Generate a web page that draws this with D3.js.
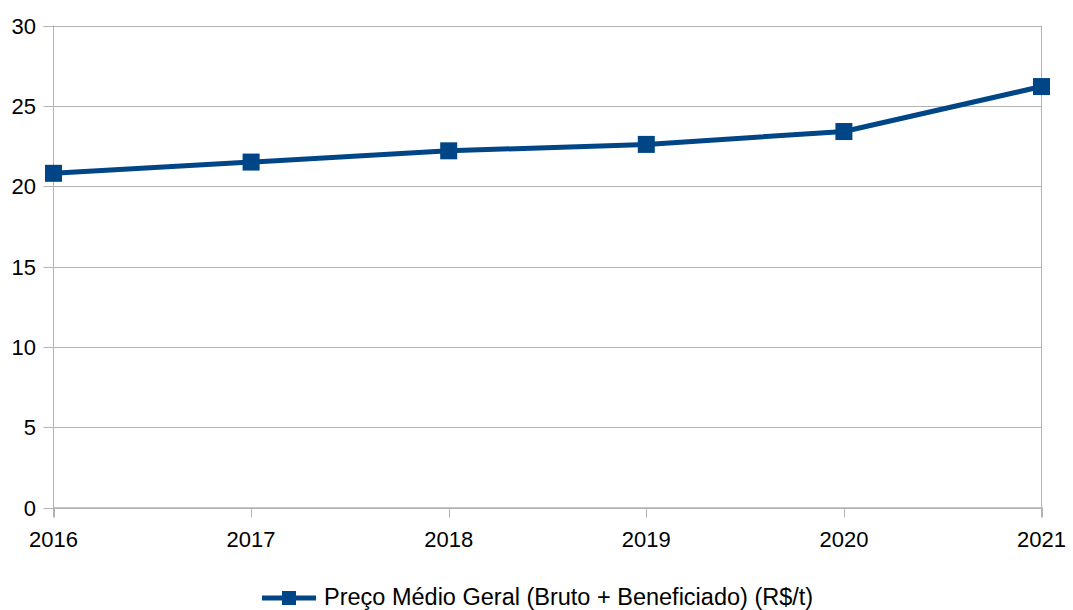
<!DOCTYPE html>
<html><head><meta charset="utf-8">
<script src="https://cdn.jsdelivr.net/npm/d3@7"></script>
<style>body{margin:0;background:#fff}svg{display:block}text{font-family:"Liberation Sans",Arial,sans-serif;fill:#000}</style>
</head><body>
<svg id="c" width="1073" height="610"></svg>
<script>
const years = ["2016","2017","2018","2019","2020","2021"];
const prices = [20.8, 21.5, 22.2, 22.6, 23.4, 26.2];
const yTicks = [0,5,10,15,20,25,30];
const seriesName = "Preço Médio Geral (Bruto + Beneficiado) (R$/t)";

const svg = d3.select("#c");
const L=53.5, R=1041.5, T=25.5, B=507.5;
const x = d3.scalePoint().domain(years).range([L,R]);
const y = d3.scaleLinear().domain([0,30]).range([B,T]);
const color = "#004586", grid="#b3b3b3";

svg.append("g").selectAll("line").data(yTicks).join("line")
  .attr("x1",L-10).attr("x2",R).attr("y1",d=>Math.round(y(d))+0.5).attr("y2",d=>Math.round(y(d))+0.5)
  .attr("stroke",grid).attr("stroke-width",1);
svg.append("line").attr("x1",L).attr("x2",L).attr("y1",T).attr("y2",B+10).attr("stroke",grid);
svg.append("line").attr("x1",R).attr("x2",R).attr("y1",T).attr("y2",B+10).attr("stroke",grid);
svg.append("g").selectAll("line").data(years).join("line")
  .attr("x1",d=>Math.round(x(d))+0.5).attr("x2",d=>Math.round(x(d))+0.5).attr("y1",B).attr("y2",B+10)
  .attr("stroke",grid);
svg.append("line").attr("x1",L).attr("x2",R).attr("y1",B+0.5).attr("y2",B+0.5).attr("stroke",grid).attr("stroke-width",1.5);

svg.append("g").selectAll("text").data(yTicks).join("text")
  .attr("x",36).attr("y",d=>y(d)+8).attr("text-anchor","end").attr("font-size",22).text(d=>d);
svg.append("g").selectAll("text").data(years).join("text")
  .attr("x",d=>x(d)).attr("y",547).attr("text-anchor","middle").attr("font-size",22).text(d=>d);

const line = d3.line().x((d,i)=>x(years[i])).y(d=>y(d));
svg.append("path").datum(prices).attr("d",line).attr("fill","none").attr("stroke",color).attr("stroke-width",5).attr("stroke-linejoin","round");
const ms=17;
svg.append("g").selectAll("rect").data(prices).join("rect")
  .attr("x",(d,i)=>x(years[i])-ms/2).attr("y",d=>y(d)-ms/2).attr("width",ms).attr("height",ms).attr("fill",color);

const lg = svg.append("g");
lg.append("line").attr("x1",262).attr("x2",316).attr("y1",598).attr("y2",598).attr("stroke",color).attr("stroke-width",5);
lg.append("rect").attr("x",282).attr("y",591).attr("width",14).attr("height",14).attr("fill",color);
lg.append("text").attr("x",324).attr("y",605).attr("font-size",23.5).text(seriesName);
</script>
</body></html>
